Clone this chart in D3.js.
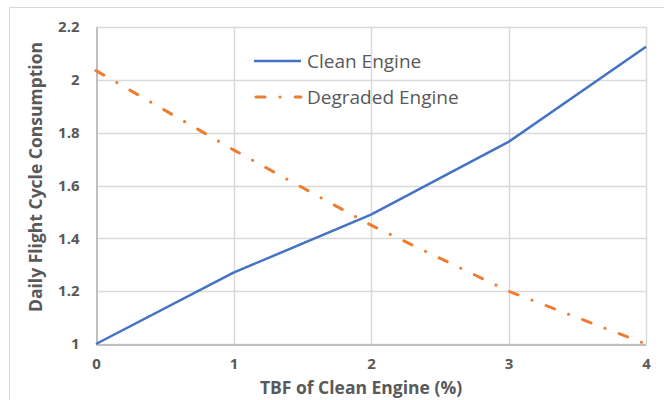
<!DOCTYPE html>
<html>
<head>
<meta charset="utf-8">
<script src="https://cdnjs.cloudflare.com/ajax/libs/d3/7.8.5/d3.min.js"></script>
<style>
  body { margin: 0; background: #fff; }
  svg { display: block; }
</style>
</head>
<body>
<div id="chart"></div>
<script>
// values
var xValues = [0, 1, 2, 3, 4];
var cleanEngine = [1.0, 1.27, 1.49, 1.765, 2.125];
var degradedEngine = [2.035, 1.735, 1.45, 1.2, 1.0];
var xTicks = [0, 1, 2, 3, 4];
var yTicks = [1, 1.2, 1.4, 1.6, 1.8, 2, 2.2];
var seriesNames = ["Clean Engine", "Degraded Engine"];

var width = 664, height = 400;
var margin = {top: 27, right: 18, bottom: 56, left: 96};
var font = "'Open Sans', sans-serif";

var svg = d3.select("#chart").append("svg")
    .attr("width", width)
    .attr("height", height)
    .attr("font-family", font);

// outer chart border (only left/top visible in the picture)
svg.append("rect")
    .attr("x", 9.5).attr("y", 7.5)
    .attr("width", 700).attr("height", 450)
    .attr("fill", "none")
    .attr("stroke", "#d9d9d9");

var x = d3.scaleLinear()
    .domain([0, 4])
    .range([margin.left, width - margin.right]);

var y = d3.scaleLinear()
    .domain([1, 2.2])
    .range([height - margin.bottom, margin.top]);

// gridlines
svg.append("g")
    .selectAll("line")
    .data(yTicks)
    .enter().append("line")
    .attr("x1", x(0)).attr("x2", x(4))
    .attr("y1", function(d) { return Math.round(y(d)) + 0.5; })
    .attr("y2", function(d) { return Math.round(y(d)) + 0.5; })
    .attr("stroke", "#d9d9d9")
    .attr("stroke-width", 1.5);

svg.append("g")
    .selectAll("line")
    .data(xTicks.slice(1))
    .enter().append("line")
    .attr("x1", function(d) { return Math.round(x(d)) + 0.5; })
    .attr("x2", function(d) { return Math.round(x(d)) + 0.5; })
    .attr("y1", y(1)).attr("y2", y(2.2))
    .attr("stroke", "#d9d9d9")
    .attr("stroke-width", 1.5);

// axes
var xAxis = d3.axisBottom(x).tickValues(xTicks).tickSize(0).tickPadding(14)
    .tickFormat(d3.format("d"));
var yAxis = d3.axisLeft(y).tickValues(yTicks).tickSize(0).tickPadding(17)
    .tickFormat(function(d) { return d3.format("")(+d.toFixed(1)); });

var gx = svg.append("g")
    .attr("transform", "translate(0," + (Math.round(y(1)) + 0.5) + ")")
    .call(xAxis);
var gy = svg.append("g")
    .attr("transform", "translate(" + (Math.round(x(0)) + 0.5) + ",0)")
    .call(yAxis);

[gx, gy].forEach(function(g) {
  g.select(".domain").attr("stroke", "#bfbfbf").attr("stroke-width", 2);
  g.selectAll("text")
      .attr("fill", "#595959")
      .attr("font-size", 15)
      .attr("font-weight", "bold")
      .attr("font-family", font);
});

// series
var line = d3.line()
    .x(function(d, i) { return x(xValues[i]); })
    .y(function(d) { return y(d); });

svg.append("path")
    .datum(cleanEngine)
    .attr("d", line)
    .attr("fill", "none")
    .attr("stroke", "#4472c4")
    .attr("stroke-width", 2.5)
    .attr("stroke-linejoin", "round");

svg.append("path")
    .datum(degradedEngine)
    .attr("d", line)
    .attr("fill", "none")
    .attr("stroke", "#ed7d31")
    .attr("stroke-width", 3)
    .attr("stroke-linecap", "round")
    .attr("stroke-dasharray", "9,15,0.1,15");

// legend
var legend = svg.append("g");
var legendY = [61, 97];
seriesNames.forEach(function(name, i) {
  var l = legend.append("line")
      .attr("x1", 254).attr("x2", 301)
      .attr("y1", legendY[i]).attr("y2", legendY[i])
      .attr("stroke", i === 0 ? "#4472c4" : "#ed7d31")
      .attr("stroke-width", i === 0 ? 2.5 : 3);
  if (i === 1) l.attr("stroke-linecap", "round").attr("stroke-dasharray", "9,15,0.1,15")
      .attr("x1", 256).attr("x2", 301);
  legend.append("text")
      .attr("x", 307).attr("y", legendY[i])
      .attr("dy", "0.35em")
      .attr("fill", "#595959")
      .attr("font-size", 19)
      .text(name);
});

// axis titles
svg.append("text")
    .attr("x", 361).attr("y", 394)
    .attr("text-anchor", "middle")
    .attr("fill", "#595959")
    .attr("font-size", 17.5)
    .attr("font-weight", "bold")
    .text("TBF of Clean Engine (%)");

svg.append("text")
    .attr("transform", "translate(42," + 177 + ") rotate(-90)")
    .attr("text-anchor", "middle")
    .attr("fill", "#595959")
    .attr("font-size", 17.5)
    .attr("font-weight", "bold")
    .text("Daily Flight Cycle Consumption");
</script>
</body>
</html>
